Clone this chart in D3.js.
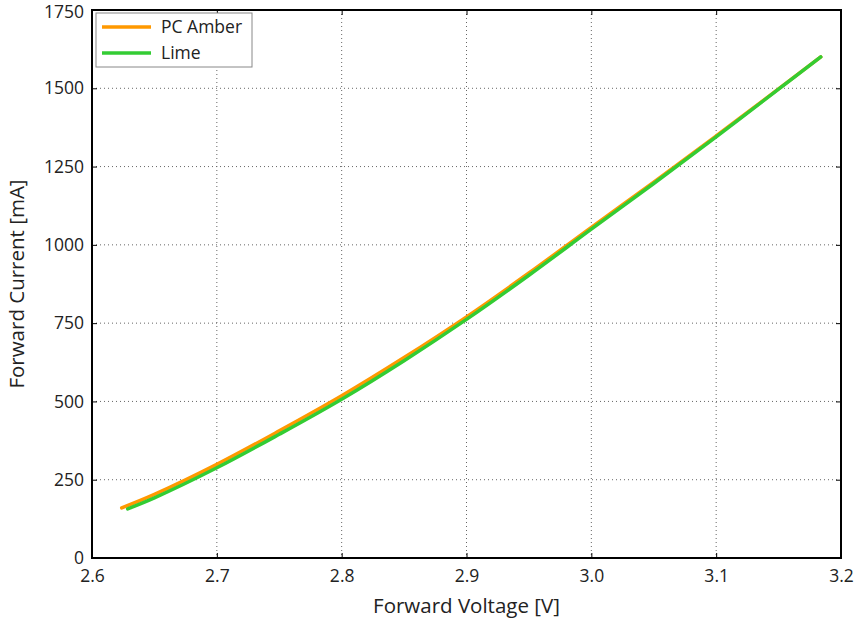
<!DOCTYPE html>
<html>
<head>
<meta charset="utf-8">
<script src="https://cdn.jsdelivr.net/npm/d3@7"></script>
<style>
  body { margin: 0; background: #fff; }
  text { font-family: "Open Sans", "Noto Sans", sans-serif; fill: #222; }
</style>
</head>
<body>
<div id="graph"></div>
<script>
const seriesNames = ["PC Amber", "Lime"];
const seriesColors = ["#ff9900", "#33cc33"];
const amberV = [2.6238, 2.65, 2.7, 2.75, 2.8, 2.85, 2.9, 2.95, 3.0, 3.05, 3.1, 3.15, 3.1838];
const amberI = [160, 203, 299, 406, 518, 640, 770, 910, 1056, 1200, 1348, 1498, 1600];
const limeV = [2.6286, 2.65, 2.7, 2.75, 2.8, 2.85, 2.9, 2.95, 3.0, 3.05, 3.1, 3.15, 3.1838];
const limeI = [157, 192, 288, 395, 507, 630, 762, 903, 1050, 1196, 1345, 1497, 1600];
const xTicks = [2.6, 2.7, 2.8, 2.9, 3.0, 3.1, 3.2];
const yTicks = [0, 250, 500, 750, 1000, 1250, 1500, 1750];

const width = 854, height = 620;
const mLeft = 92, mRight = 841, mTop = 10, mBottom = 558;

const svg = d3.select("#graph").append("svg")
    .attr("width", width)
    .attr("height", height);

const xScale = d3.scaleLinear().domain([2.6, 3.2]).range([mLeft, mRight]);
const yScale = d3.scaleLinear().domain([0, 1750]).range([mBottom, mTop]);

// grid
svg.append("g")
    .selectAll("line")
    .data(xTicks.slice(1, -1))
    .join("line")
    .attr("x1", d => xScale(d)).attr("x2", d => xScale(d))
    .attr("y1", mTop).attr("y2", mBottom)
    .attr("stroke", "#666").attr("stroke-width", 1)
    .attr("stroke-dasharray", "1,3");

svg.append("g")
    .selectAll("line")
    .data(yTicks.slice(1, -1))
    .join("line")
    .attr("x1", mLeft).attr("x2", mRight)
    .attr("y1", d => yScale(d)).attr("y2", d => yScale(d))
    .attr("stroke", "#666").attr("stroke-width", 1)
    .attr("stroke-dasharray", "1,3");

// axes
const xAxis = d3.axisBottom(xScale).tickValues(xTicks).tickSize(-5).tickPadding(12).tickFormat(d3.format(".1f"));
const yAxis = d3.axisLeft(yScale).tickValues(yTicks).tickSize(-5).tickPadding(8).tickFormat(d3.format("d"));

const gx = svg.append("g").attr("transform", `translate(0,${mBottom})`).call(xAxis);
const gy = svg.append("g").attr("transform", `translate(${mLeft},0)`).call(yAxis);
svg.append("g").attr("transform", `translate(0,${mTop})`)
    .call(d3.axisTop(xScale).tickValues(xTicks).tickSize(-5).tickFormat(""));
svg.append("g").attr("transform", `translate(${mRight},0)`)
    .call(d3.axisRight(yScale).tickValues(yTicks).tickSize(-5).tickFormat(""));

svg.selectAll(".domain").remove();
svg.selectAll(".tick line").attr("stroke", "#000");
[gx, gy].forEach(g => g.selectAll("text")
    .style("font-size", "17.5px")
    .style("font-family", "'Open Sans', sans-serif")
    .attr("fill", "#222"));
// keep the top label inside the page
gy.selectAll(".tick text").filter(d => d === 1750).attr("dy", "0.4em");

// lines
const line = d3.line()
    .x(d => xScale(d[0]))
    .y(d => yScale(d[1]))
    .curve(d3.curveCatmullRom.alpha(0.5));

const series = [d3.zip(amberV, amberI), d3.zip(limeV, limeI)];
series.forEach((s, i) => {
    svg.append("path")
        .datum(s)
        .attr("fill", "none")
        .attr("stroke", seriesColors[i])
        .attr("stroke-width", 3.5)
        .attr("stroke-linecap", "round")
        .attr("d", line);
});

// frame
svg.append("rect")
    .attr("x", mLeft).attr("y", mTop)
    .attr("width", mRight - mLeft).attr("height", mBottom - mTop)
    .attr("fill", "none").attr("stroke", "#000").attr("stroke-width", 2);

// legend
const legend = svg.append("g");
legend.append("rect")
    .attr("x", 96).attr("y", 13).attr("width", 156).attr("height", 54)
    .attr("fill", "#fff").attr("stroke", "#888").attr("stroke-width", 1);
seriesNames.forEach((name, i) => {
    const y = 27 + i * 26;
    legend.append("line")
        .attr("x1", 102).attr("x2", 151).attr("y1", y).attr("y2", y)
        .attr("stroke", seriesColors[i]).attr("stroke-width", 3.5);
    legend.append("text")
        .attr("x", 161).attr("y", y)
        .attr("dy", "0.35em")
        .style("font-size", "17.5px")
        .text(name);
});

// axis titles
svg.append("text")
    .attr("x", (mLeft + mRight) / 2)
    .attr("y", 613)
    .attr("text-anchor", "middle")
    .style("font-size", "20.5px")
    .text("Forward Voltage [V]");

svg.append("text")
    .attr("transform", `translate(24,${(mTop + mBottom) / 2}) rotate(-90)`)
    .attr("text-anchor", "middle")
    .style("font-size", "20.5px")
    .text("Forward Current [mA]");
</script>
</body>
</html>
